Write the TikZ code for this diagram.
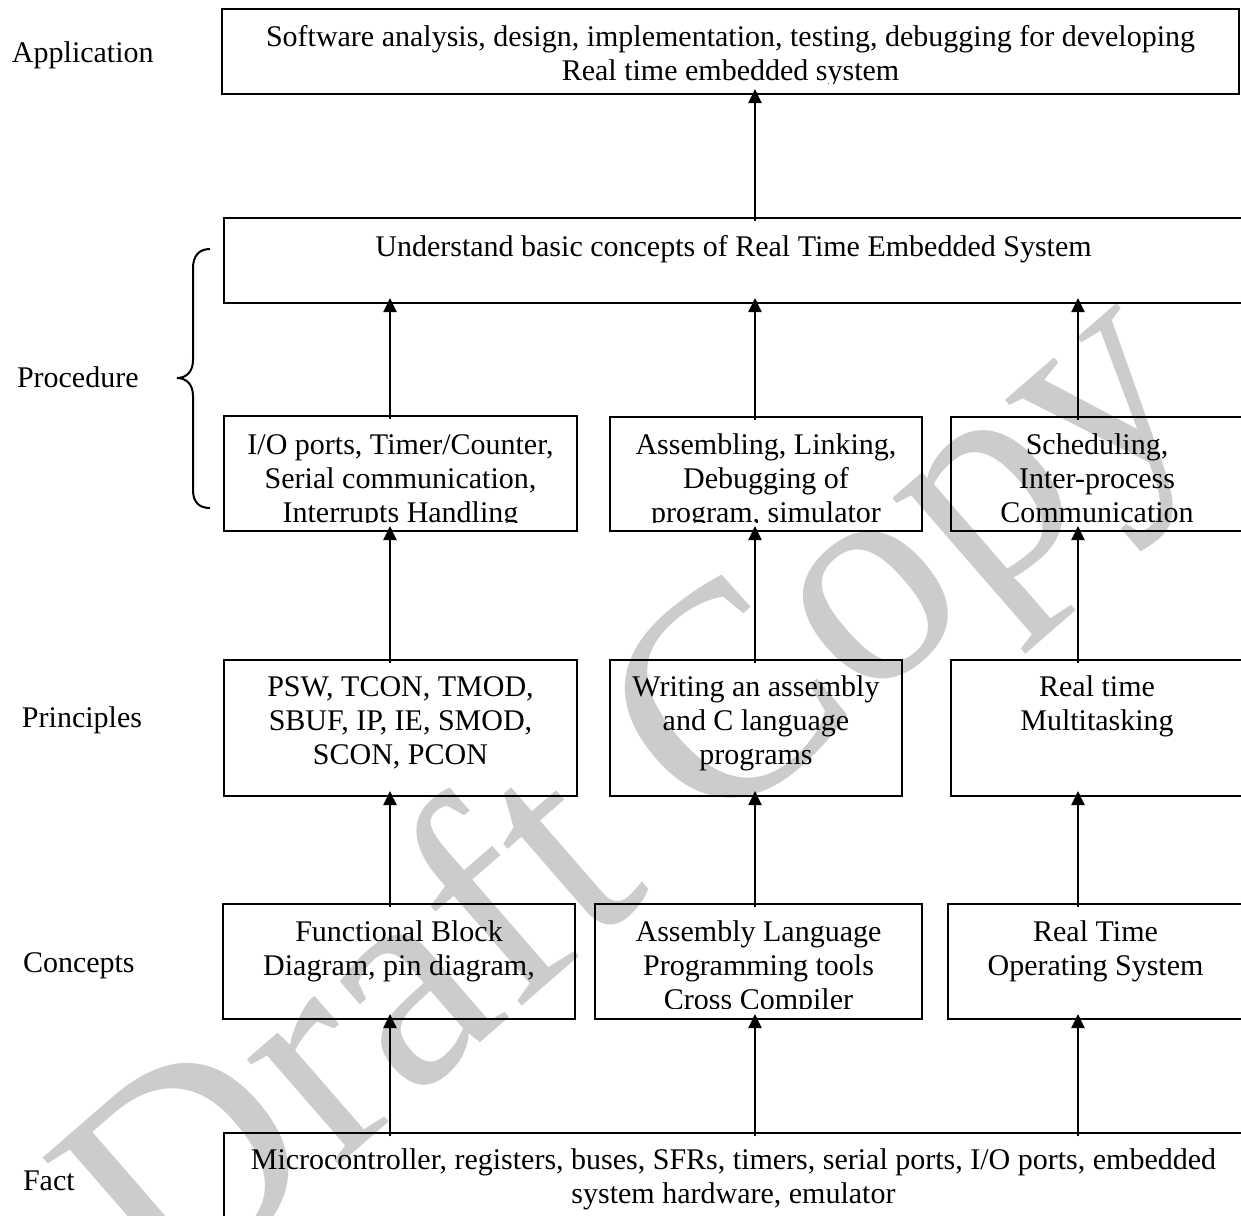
\documentclass[tikz,border=0pt]{standalone}
\usepackage{fontspec}
\setmainfont{Liberation Serif}
\usetikzlibrary{arrows.meta,positioning,fit}

\begin{document}
\begin{tikzpicture}[x=0.4pt,y=-0.4pt,line width=0.8pt,
  blk/.style={draw,inner sep=0pt},
  txt/.style={align=center,inner sep=0pt,font=\fontsize{12}{13.6}\selectfont},
  lbl/.style={anchor=base west,inner sep=0pt,font=\fontsize{12}{13.6}\selectfont},
  wm/.style={inner sep=0pt,rotate=41,text=black!20,font=\fontsize{122}{122}\selectfont},
  up/.style={-{Triangle[length=5.6pt,width=5.2pt]},shorten <=-1.6pt,shorten >=-2.4pt}]
\useasboundingbox (0,0) rectangle (1241,1215);
% watermark
\node[wm] (draft) at (640,805) {Draft Copy};
% levels
\node[lbl] (lapp) at (11,62) {Application};
\node[lbl] (lproc) at (16,387) {Procedure};
\node[lbl] (lprin) at (21,727) {Principles};
\node[lbl] (lconc) at (22,972) {Concepts};
\node[lbl] (lfact) at (22,1190) {Fact};
\draw (210,249) .. controls (199,249) and (193,256) .. (193,268) -- (193,360)
  .. controls (193,372) and (186,378) .. (177,378)
  .. controls (186,378) and (193,384) .. (193,396) -- (193,490)
  .. controls (193,502) and (199,508) .. (210,508);
% boxes
\node[blk,fit={(222,9) (1239,94)}] (app) {};
\node[blk,fit={(224,218) (1243,303)}] (und) {};
\node[blk,fit={(224,416) (577,531)}] (io) {};
\node[blk,fit={(610,417) (922,531)}] (asm) {};
\node[blk,fit={(951,417) (1243,531)}] (sch) {};
\node[blk,fit={(224,660) (577,796)}] (psw) {};
\node[blk,fit={(610,660) (902,796)}] (wri) {};
\node[blk,fit={(951,660) (1243,796)}] (rtm) {};
\node[blk,fit={(223,904) (575,1019)}] (fbd) {};
\node[blk,fit={(595,904) (922,1019)}] (alp) {};
\node[blk,fit={(948,904) (1243,1019)}] (rto) {};
\node[blk,fit={(224,1133) (1243,1235)}] (fact) {};
% texts
\begin{scope}
\clip (222,9) rectangle (1239,83);
\node[txt,below=5.6pt of app.north] (tapp) {\strut Software analysis, design, implementation, testing, debugging for developing\\Real time embedded system};
\end{scope}
\node[txt,below=6pt of und.north] (tund) {\strut Understand basic concepts of Real Time Embedded System};
\begin{scope}
\clip (224,416) rectangle (577,522);
\node[txt,below=6pt of io.north] (tio) {\strut I/O ports, Timer/Counter,\\Serial communication,\\Interrupts Handling};
\end{scope}
\begin{scope}
\clip (610,417) rectangle (922,522.5);
\node[txt,below=5.6pt of asm.north] (tasm) {\strut Assembling, Linking,\\Debugging of\\program, simulator};
\end{scope}
\begin{scope}
\clip (951,417) rectangle (1243,523);
\node[txt,below=5.6pt of sch.north] (tsch) {\strut Scheduling,\\Inter-process\\Communication};
\end{scope}
\node[txt,below=5.2pt of psw.north] (tpsw) {\strut PSW, TCON, TMOD,\\SBUF, IP, IE, SMOD,\\SCON, PCON};
\node[txt,below=5.2pt of wri.north] (twri) {\strut Writing an assembly\\and C language\\programs};
\node[txt,below=5.2pt of rtm.north] (trtm) {\strut Real time\\Multitasking};
\node[txt,below=5.6pt of fbd.north] (tfbd) {\strut Functional Block\\Diagram, pin diagram,};
\begin{scope}
\clip (595,904) rectangle (922,1008);
\node[txt,below=5.6pt of alp.north] (talp) {\strut Assembly Language\\Programming tools\\Cross Compiler};
\end{scope}
\node[txt,below=5.6pt of rto.north] (trto) {\strut Real Time\\Operating System};
\node[txt,below=5.2pt of fact.north] (tfact) {\strut Microcontroller, registers, buses, SFRs, timers, serial ports, I/O ports, embedded\\system hardware, emulator};
% arrows
\foreach \a/\b/\x in {und/app/755, io/und/390, asm/und/755, sch/und/1078,
    psw/io/390, wri/asm/755, rtm/sch/1078, fbd/psw/390, alp/wri/755, rto/rtm/1078,
    fact/fbd/390, fact/alp/755, fact/rto/1078}
  \draw[up] (\a.north -| \x,0) -- (\b.south -| \x,0);
\end{tikzpicture}
\end{document}
